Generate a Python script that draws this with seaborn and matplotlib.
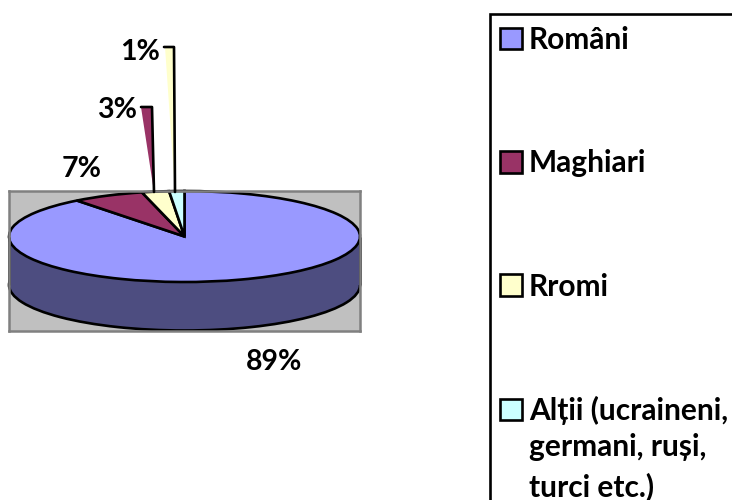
import matplotlib
matplotlib.use("Agg")
import matplotlib.pyplot as plt
from matplotlib.patches import Patch, Rectangle
import seaborn as sns

categories = ["Români", "Maghiari", "Rromi", "Alții (ucraineni,"]
legend_extra = ["germani, ruși,", "turci etc.)"]
values = [89.5, 6.6, 2.5, 1.4]
pct_labels = ["89%", "7%", "3%", "1%"]
colors = ["#9999FF", "#993366", "#FFFFCC", "#CCFFFF"]
side_color = "#4D4D80"

sns.set_theme(style="white")
plt.rcParams["font.family"] = ["Lato", "DejaVu Sans"]
plt.rcParams["font.weight"] = "bold"
palette = sns.color_palette(colors)

W, H = 732, 500
fig = plt.figure(figsize=(W / 100, H / 100), dpi=100)

# pie axes: data box spans the grey plot area
L, R, T, B = 9, 360, 191, 331
ry = 45.5
depth = 48.5 / ry
lw = 1.9
ax = fig.add_axes([L / W, 1 - B / H, (R - L) / W, (B - T) / H])
wp = dict(edgecolor="black", linewidth=lw, clip_on=False)
ax.pie([1], colors=[side_color], center=(0, -depth), radius=1, wedgeprops=wp)
ax.bar(0, depth, bottom=-depth, width=2, color=side_color, linewidth=0)
ax.vlines([-1, 1], -depth, 0, color="black", linewidth=lw, clip_on=False)
ax.pie(values, colors=palette, startangle=90, counterclock=False, center=(0, 0),
       radius=1, wedgeprops=wp)
ax.set_aspect("auto")
ax.set_xlim(-1, 1)
ax.set_ylim(1 - (B - T) / ry, 1)
ax.set_frame_on(True)
ax.set_facecolor("#C0C0C0")
for s in ax.spines.values():
    s.set_color("#808080")
    s.set_linewidth(1.8)

# overlay in pixel coordinates for leaders, labels and legend frame
ov = fig.add_axes([0, 0, 1, 1], facecolor="none")
ov.set_xlim(0, W)
ov.set_ylim(H, 0)
ov.axis("off")

ov.fill([141, 152, 154], [107, 107, 192], color=palette[1], linewidth=0)
ov.plot([141, 152, 154], [107, 107, 192], color="black", lw=lw)
ov.fill([165, 174, 175], [47, 47, 192], color=palette[2], linewidth=0)
ov.plot([164, 174, 175], [47, 47, 192], color="black", lw=lw)

pct_fs = 20.5
for lab, (x, y) in zip(pct_labels, [(274, 362), (82, 169), (117, 110), (140, 52)]):
    ov.text(x, y, lab, ha="center", va="center", fontsize=pct_fs, color="black")

fs = 21.5
ov.add_patch(Rectangle((490, 14), 300, 520, facecolor="white", edgecolor="black", lw=lw))
handles = [Patch(facecolor=c, edgecolor="black", linewidth=lw) for c in palette]
fig.legend(handles, categories, loc="upper left", bbox_to_anchor=(500 / W, 1 - 26 / H),
           bbox_transform=fig.transFigure, frameon=False, fontsize=fs, borderpad=0,
           borderaxespad=0, handlelength=0.74, handleheight=0.74, handletextpad=0.23,
           labelspacing=3.19, labelcolor="black")
for txt, y in zip(legend_extra, [447, 487]):
    ov.text(529, y, txt, ha="left", va="center", fontsize=fs, color="black")

fig.savefig("out.png", dpi=100)
